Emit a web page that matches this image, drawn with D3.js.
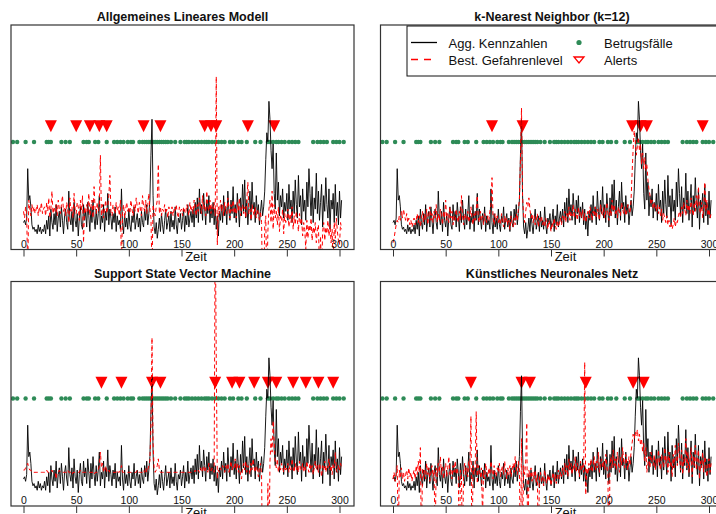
<!DOCTYPE html>
<html>
<head>
<meta charset="utf-8">
<script src="https://cdn.jsdelivr.net/npm/d3@7"></script>
<style>
  body { margin: 0; background: #fff; }
  text { font-family: "Liberation Sans", Arial, sans-serif; fill: #111; }
</style>
</head>
<body>
<div id="chart"></div>
<script>
// Zeitreihen-Werte (Index = Zeit 0..302), Einheit: Gefahrenlevel 0-100
var aggKennzahlen = [
  12,13,11,14,36,22,24,19,11,9, 10,8,9,7,11,8,10,7,9,8, 11,7,13,9,15,6,18,12,9,16,
  11,20,8,14,17,10,19,13,7,15, 18,12,9,26,14,11,17,8,21,13, 10,16,6,14,19,11,9,20,13,17,
  10,21,15,8,19,12,22,14,9,18, 11,16,24,9,15,12,20,8,17,13, 25,11,18,14,9,16,12,19,8,15,
  11,13,9,27,12,7,16,10,14,9, 18,11,8,15,12,19,9,13,16,10, 14,8,17,12,10,18,13,20,11,16,
  22,42,58,24,10,7,12,5,9,14, 8,16,11,7,13,18,9,12,15,8, 17,10,13,9,19,11,7,14,12,16,
  9,13,18,8,15,11,20,10,14,17, 12,18,10,21,14,23,12,27,16,20, 13,25,18,11,22,16,24,12,19,14,
  21,11,18,9,15,6,17,13,20,12, 24,15,19,11,26,17,13,22,16,28, 14,20,12,25,18,10,23,15,29,17,
  31,14,22,11,19,26,13,30,18,21, 12,24,16,20,11,17,22,15,19,26, 40,52,48,66,58,44,36,47,25,18,
  43,22,30,15,24,19,27,14,21,17, 25,13,29,18,22,12,26,16,31,20, 14,33,19,24,11,27,17,22,13,30,
  19,36,25,15,28,12,23,18,34,16, 26,13,21,29,10,24,17,32,20,14, 27,9,22,18,25,12,29,15,21,11,
  26,14,22
];

var gefahrGLM = [
  17,14,19,16,-10,22,18,15,20,17, 19,16,18,20,15,19,17,21,16,18, 19,15,21,17,23,14,18,26,16,19,
  17,20,15,22,18,16,20,24,17,19, 15,21,18,12,23,17,19,14,25,18, 16,21,19,13,22,17,24,3,19,16,
  20,17,25,15,19,22,14,28,18,16, 21,17,19,42,15,20,14,18,22,16, 19,24,33,17,15,20,18,16,21,17,
  19,15,22,-8,16,20,14,18,21,17, 19,16,22,18,15,20,17,23,19,16, 21,18,15,24,19,17,22,16,20,25,
  18,14,-10,20,17,15,19,22,38,16, 19,15,18,17,20,16,18,14,19,17, 16,19,15,18,17,20,16,14,19,17,
  18,15,19,17,16,20,18,15,21,17, 19,16,22,18,15,20,17,23,19,16, 24,18,20,15,26,19,17,22,16,20,
  18,21,15,77,2,19,16,22,17,20, 15,21,18,16,23,19,14,20,17,22, 16,19,14,21,17,23,15,18,20,16,
  19,14,22,30,16,18,13,20,17,15, 19,14,18,16,13,17,12,-20,-25,10, 15,-18,8,18,22,12,26,9,20,14,
  17,11,19,8,15,13,18,7,16,12, 14,18,10,16,12,19,9,15,11,17, 13,8,16,11,14,6,12,9,0,13,
  5,11,8,14,4,10,7,12,3,9, 11,-10,6,-12,8,12,4,10,7,13, 6,11,3,9,-8,12,5,14,8,4,
  2,12,9
];

var gefahrKNN = [
  3,5,8,11,13,12,15,13,17,14, 18,15,13,16,12,14,11,13,10,12, 14,11,13,16,12,15,10,14,17,12,
  16,13,18,11,15,19,13,16,12,17, 14,20,12,16,13,18,15,11,17,14, 22,13,16,12,19,14,17,11,15,13,
  18,14,12,17,13,24,15,11,16,14, 13,17,12,15,19,14,11,16,13,18, 24,14,12,17,13,15,11,16,14,12,
  15,13,17,20,32,14,11,16,13,15, 12,14,11,16,13,10,15,12,14,11, 13,9,15,12,10,14,11,16,13,18,
  22,40,63,24,15,12,17,21,19,23, 18,14,16,12,15,11,13,16,10,14, 12,15,11,13,10,14,12,9,13,11,
  8,12,10,14,11,9,13,10,12,14, 11,15,13,17,12,16,14,19,13,17, 15,20,14,18,16,13,19,15,17,14,
  18,13,16,12,15,17,14,19,16,13, 17,15,19,14,18,16,13,20,17,15, 19,14,17,21,16,13,18,15,22,17,
  20,16,18,14,19,17,15,21,18,16, 19,15,17,20,18,16,22,34,45,53, 48,42,46,50,44,47,38,43,36,41,
  35,38,31,27,24,20,22,18,21,19, 17,20,16,19,15,18,13,16,14,12, 15,11,13,10,12,9,11,14,10,13,
  12,15,17,14,19,16,21,18,15,22, 17,20,16,23,18,15,21,17,24,19, 28,18,16,21,14,19,30,17,22,15,
  18,14,16
];

var gefahrSVM = [
  16,16,17,18,19,17,16,16,15,15, 15,15,15,15,15,15,15,15,15,15, 15,15,16,15,15,15,15,16,15,15,
  15,12,15,15,16,15,15,15,15,15, 15,15,16,15,15,15,14,15,15,15, 15,15,15,15,16,15,15,15,15,15,
  15,15,15,15,15,15,15,14,15,15, 15,16,18,24,17,19,15,16,18,15, 15,16,15,15,15,15,15,15,15,16,
  15,15,16,18,15,15,15,15,15,15, 15,15,15,15,15,15,15,15,16,15, 15,15,15,15,16,15,17,15,16,18,
  20,35,75,28,17,15,16,18,21,16, 15,15,15,15,15,15,15,15,15,15, 15,15,15,15,15,15,15,15,15,15,
  15,15,15,15,15,15,15,15,15,15, 15,15,15,16,15,15,16,15,17,15, 16,18,15,17,16,15,19,16,15,17,
  16,15,130,65,12,16,15,17,16,18, 17,15,18,16,19,15,17,20,16,18, 17,21,16,19,15,18,14,12,17,19,
  16,20,15,18,17,14,19,16,21,17, 15,18,16,13,17,19,14,-30,-40,-35, -30,-38,10,-25,20,30,24,38,28,20,
  17,21,15,18,16,19,17,15,18,16, 17,19,15,18,16,21,17,15,19,16, 18,15,20,17,16,19,15,18,16,20,
  17,15,19,16,18,14,17,20,16,18, 15,19,17,13,18,16,20,15,18,17, 21,16,18,14,19,17,24,16,15,18,
  16,19,17
];

var gefahrANN = [
  12,15,11,14,18,-15,16,13,17,12, 15,11,14,16,12,17,13,15,11,14, 16,12,18,14,20,15,26,-20,17,13,
  16,12,19,14,17,11,15,18,13,16, -15,17,13,19,15,22,14,18,12,16, 19,13,17,22,14,16,12,18,15,20,
  14,17,13,-25,16,12,-20,15,19,14, 17,13,20,16,40,-25,18,14,17,42, 10,18,15,13,17,-5,16,12,19,15,
  13,17,14,20,16,12,18,15,13,17, 15,19,13,16,18,14,20,15,12,17, 14,18,13,16,19,15,22,17,14,20,
  16,-25,30,-15,18,14,20,37,-30,16, 13,17,11,15,12,16,10,14,-20,12, 15,11,13,9,16,12,10,14,11,13,
  9,12,15,11,14,10,13,16,12,15, 13,17,14,19,15,18,13,21,16,19, 14,18,16,22,15,19,17,13,20,16,
  18,15,64,5,17,14,19,16,21,15, 18,22,16,20,17,24,15,19,21,17, 20,16,23,18,14,-30,19,22,17,25,
  18,21,16,24,19,15,22,18,26,20, 17,23,19,16,22,18,24,28,32,30, 33,31,34,29,32,27,30,24,28,20,
  26,15,19,22,17,24,20,18,23,16, 21,18,25,19,16,23,20,17,26,19, 22,15,24,18,20,13,23,17,27,21,
  18,28,22,16,25,14,21,19,30,17, 24,15,20,26,13,22,18,27,16,21, 25,12,20,17,24,15,22,19,13,18,
  21,15,19
];

// Zeitpunkte der Betrugsfaelle und Alerts
var betrugsfaelle = [-10,-6,2,10,22,24,26,36,40,44,57,60,62,68,71,79,86,89,92,95,99,102,104,110,
  113,115,117,119,121,123,125,127,129,131,133,135,137,140,144,149,153,155,157,160,163,166,169,
  172,174,176,179,182,185,188,191,196,199,204,207,212,220,225,232,234,237,240,242,245,248,252,
  255,258,261,275,279,282,285,288,294,297,300,304];
var alertsGLM = [26,50,63,72,79,114,130,172,178,183,213,238];
var alertsKNN = [94,123,227,235,241,294];
var alertsSVM = [74,93,122,130,182,198,205,219,232,240,256,268,280,294];
var alertsANN = [74,122,130,183,228,238];

var titles = ["Allgemeines Lineares Modell", "k-Nearest Neighbor (k=12)",
  "Support State Vector Machine", "Künstliches Neuronales Netz"];
var xTicks = [0, 50, 100, 150, 200, 250, 300];
var fraudLevel = 47.9;
var alertLevel = 55.4;

var svgWidth = 716, svgHeight = 514;
var panelWidth = 343, panelHeight = 224.5;
var colLeft = [11, 380.5];
var rowTop = [25, 281.5];

var svg = d3.select("#chart").append("svg")
  .attr("width", svgWidth).attr("height", svgHeight)
  .style("display", "block");
svg.append("rect").attr("width", svgWidth).attr("height", svgHeight).attr("fill", "#fff");

var panels = [
  {red: gefahrGLM, alerts: alertsGLM},
  {red: gefahrKNN, alerts: alertsKNN},
  {red: gefahrSVM, alerts: alertsSVM},
  {red: gefahrANN, alerts: alertsANN}
];

panels.forEach(function(p, i) {
  var left = colLeft[i % 2], top = rowTop[Math.floor(i / 2)];
  var bottom = top + panelHeight;

  var x = d3.scaleLinear().domain([0, 300]).range([left + 12.5, left + 328.5]);
  var y = d3.scaleLinear().domain([0, 100]).range([bottom, top]);

  var clipId = "clip" + i;
  svg.append("clipPath").attr("id", clipId)
    .append("rect").attr("x", left).attr("y", top).attr("width", panelWidth).attr("height", panelHeight);

  var g = svg.append("g").attr("clip-path", "url(#" + clipId + ")");

  // Betrugsfaelle
  g.selectAll("circle").data(betrugsfaelle).enter()
    .append("circle")
    .attr("cx", d => x(d))
    .attr("cy", y(fraudLevel))
    .attr("r", 2.2)
    .attr("fill", "#2e8b57");

  // Alerts
  g.selectAll(".alert").data(p.alerts).enter()
    .append("path")
    .attr("class", "alert")
    .attr("d", function(d) {
      var cx = x(d), cy = y(alertLevel);
      return "M" + (cx - 6) + "," + (cy - 5) + "L" + (cx + 6) + "," + (cy - 5) + "L" + cx + "," + (cy + 7) + "Z";
    })
    .attr("fill", "#ff0000");

  var line = d3.line().x((d, t) => x(t)).y(d => y(d));

  g.append("path").datum(aggKennzahlen)
    .attr("d", line)
    .attr("fill", "none")
    .attr("stroke", "#000")
    .attr("stroke-width", 0.9);

  g.append("path").datum(p.red)
    .attr("d", line)
    .attr("fill", "none")
    .attr("stroke", "#ff0000")
    .attr("stroke-width", 1)
    .attr("stroke-dasharray", "4,3");

  // Rahmen
  svg.append("rect")
    .attr("x", left).attr("y", top).attr("width", panelWidth).attr("height", panelHeight)
    .attr("fill", "none").attr("stroke", "#333").attr("stroke-width", 1.2);

  // x-Achse
  var axis = svg.append("g").attr("transform", `translate(0, ${bottom})`)
    .call(d3.axisBottom(x).tickValues(xTicks).tickSize(7).tickFormat(d3.format("d")));
  axis.select(".domain").remove();
  axis.selectAll("line").attr("stroke", "#333");
  axis.selectAll("text")
    .attr("y", -2).attr("dy", 0)
    .attr("font-size", 10.5)
    .attr("font-family", "Liberation Sans, Arial, sans-serif")
    .attr("fill", "#222");

  svg.append("text")
    .attr("x", left + 185).attr("y", bottom + 11)
    .attr("text-anchor", "middle")
    .attr("font-size", 13)
    .text("Zeit");

  svg.append("text")
    .attr("x", left + panelWidth / 2).attr("y", top - 4)
    .attr("text-anchor", "middle")
    .attr("font-size", 12.5)
    .attr("font-weight", "bold")
    .text(titles[i]);
});

// Legende im zweiten Panel
var legend = svg.append("g");
legend.append("rect")
  .attr("x", 407).attr("y", 26).attr("width", 320).attr("height", 50)
  .attr("fill", "#fff").attr("stroke", "#111").attr("stroke-width", 1);
legend.append("line").attr("x1", 411).attr("x2", 437).attr("y1", 42.5).attr("y2", 42.5)
  .attr("stroke", "#000").attr("stroke-width", 1.3);
legend.append("line").attr("x1", 411).attr("x2", 437).attr("y1", 59.5).attr("y2", 59.5)
  .attr("stroke", "#ff0000").attr("stroke-width", 1.3).attr("stroke-dasharray", "7,6");
legend.append("circle").attr("cx", 579).attr("cy", 42.5).attr("r", 2.6).attr("fill", "#2e8b57");
legend.append("path").attr("d", "M574,57L584,57L579,63Z")
  .attr("fill", "none").attr("stroke", "#ff0000").attr("stroke-width", 1.3);
var legendText = [["Agg. Kennzahlen", 448.5, 47.5], ["Best. Gefahrenlevel", 448.5, 64.5],
  ["Betrugsfälle", 604, 47.5], ["Alerts", 604, 64.5]];
legend.selectAll(".lt").data(legendText).enter()
  .append("text").attr("class", "lt")
  .attr("x", d => d[1]).attr("y", d => d[2])
  .attr("font-size", 13)
  .text(d => d[0]);
</script>
</body>
</html>
